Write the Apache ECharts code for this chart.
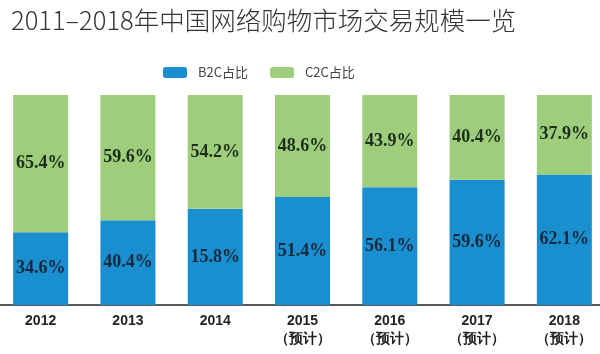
<!DOCTYPE html>
<html>
<head>
<meta charset="utf-8">
<script src="https://cdn.jsdelivr.net/npm/echarts@6/dist/echarts.min.js"></script>
<style>
  html, body { margin: 0; padding: 0; background: #fff; }
  #main { width: 600px; height: 354px; }
</style>
</head>
<body>
<div id="main"></div>
<script>
var years = ['2012', '2013', '2014', '2015\n（预计）', '2016\n（预计）', '2017\n（预计）', '2018\n（预计）'];
var b2c = [34.6, 40.4, 45.8, 51.4, 56.1, 59.6, 62.1];
var c2c = [65.4, 59.6, 54.2, 48.6, 43.9, 40.4, 37.9];
// printed labels as in the source (2014 is misprinted there)
var b2cText = ['34.6%', '40.4%', '15.8%', '51.4%', '56.1%', '59.6%', '62.1%'];
var c2cText = ['65.4%', '59.6%', '54.2%', '48.6%', '43.9%', '40.4%', '37.9%'];

var myChart = echarts.init(document.getElementById('main'));

var labelStyle = {
    show: true,
    position: 'inside',
    fontFamily: 'Liberation Serif',
    fontWeight: 'bold',
    fontSize: 18,
    color: '#17283a'
};

myChart.setOption({
    animation: false,
    title: {
        text: '2011–2018年中国网络购物市场交易规模一览',
        left: 6,
        top: 3,
        textStyle: {
            fontFamily: 'Noto Sans CJK SC',
            fontWeight: 300,
            fontSize: 25.5,
            color: '#333'
        }
    },
    legend: {
        left: 158,
        top: 61,
        itemWidth: 24,
        itemHeight: 11,
        itemGap: 22,
        textStyle: {
            fontFamily: 'Noto Sans CJK SC',
            fontSize: 13,
            color: '#444',
            padding: [0, 0, 0, 6]
        },
        data: ['B2C占比', 'C2C占比']
    },
    grid: {
        left: -3,
        width: 611,
        top: 95,
        bottom: 49,
        outerBoundsMode: 'none'
    },
    xAxis: {
        type: 'category',
        data: years,
        axisLine: { lineStyle: { color: '#222', width: 1.5 } },
        axisTick: { show: false },
        axisLabel: {
            margin: 7,
            fontFamily: 'Liberation Sans',
            fontWeight: 'bold',
            fontSize: 14,
            lineHeight: 18,
            color: '#222'
        }
    },
    yAxis: {
        type: 'value',
        min: 0,
        max: 100,
        show: false
    },
    series: [
        {
            name: 'B2C占比',
            type: 'bar',
            stack: 'share',
            barWidth: 55,
            itemStyle: { color: '#1a8fd0' },
            label: Object.assign({}, labelStyle, {
                formatter: function (p) { return b2cText[p.dataIndex]; }
            }),
            data: b2c
        },
        {
            name: 'C2C占比',
            type: 'bar',
            stack: 'share',
            barWidth: 55,
            itemStyle: { color: '#9ecd7b' },
            label: Object.assign({}, labelStyle, {
                color: '#1c2e1c',
                formatter: function (p) { return c2cText[p.dataIndex]; }
            }),
            data: c2c
        }
    ]
});
</script>
</body>
</html>
